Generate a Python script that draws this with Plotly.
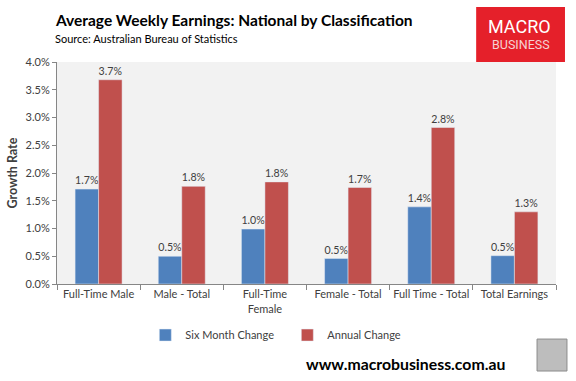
import plotly.graph_objects as go

categories = ["Full-Time Male", "Male - Total", "Full-Time<br>Female", "Female - Total", "Full Time - Total", "Total Earnings"]
six_month = [1.71, 0.50, 0.99, 0.46, 1.39, 0.51]
annual = [3.68, 1.76, 1.84, 1.74, 2.82, 1.30]
y_ticks = [0.0, 0.5, 1.0, 1.5, 2.0, 2.5, 3.0, 3.5, 4.0]
y_tick_labels = [f"{v:.1f}%" for v in y_ticks]

FONT = "Lato"
TXT = "#404040"

fig = go.Figure()
fig.add_trace(go.Bar(name="Six Month Change", x=categories, y=six_month,
                     marker_color="#4F81BD", texttemplate="%{y:.1f}%", textposition="outside",
                     textfont=dict(size=11, color=TXT, family=FONT), cliponaxis=False))
fig.add_trace(go.Bar(name="Annual Change", x=categories, y=annual,
                     marker_color="#C0504D", texttemplate="%{y:.1f}%", textposition="outside",
                     textfont=dict(size=11, color=TXT, family=FONT), cliponaxis=False))

fig.update_layout(
    width=576, height=381,
    margin=dict(l=57, r=20, t=62, b=97, autoexpand=False),
    paper_bgcolor="white", plot_bgcolor="#F2F2F2",
    barmode="group", bargap=0.435, bargroupgap=0,
    font=dict(family=FONT, size=11, color=TXT),
    showlegend=True,
    legend=dict(orientation="h", x=0.177, xanchor="left", y=-0.23, yanchor="middle",
                font=dict(size=11, color=TXT, family=FONT), itemwidth=30, traceorder="normal",
                entrywidth=97, entrywidthmode="pixels"),
    xaxis=dict(showline=True, linecolor="#868686", linewidth=1, ticks="outside",
               tickson="boundaries", ticklen=5, tickcolor="#868686", tickangle=0, automargin=False,
               tickfont=dict(size=11, color=TXT, family=FONT), showgrid=False),
    yaxis=dict(range=[0, 4], tickvals=y_ticks, ticktext=y_tick_labels, automargin=False,
               showline=True, linecolor="#868686", linewidth=1, ticks="outside", ticklen=4,
               tickcolor="#868686", showgrid=False, zeroline=False,
               tickfont=dict(size=11, color=TXT, family=FONT),
               title=dict(text="<b>Growth Rate</b>", font=dict(size=12.5, color=TXT, family=FONT), standoff=5)),
)

fig.add_annotation(text="<b>Average Weekly Earnings: National by Classification</b>",
                   xref="paper", yref="paper", x=-0.009, y=1.19, xanchor="left", yanchor="middle",
                   showarrow=False, font=dict(size=15.5, color="#000000", family=FONT))
fig.add_annotation(text="Source: Australian Bureau of Statistics",
                   xref="paper", yref="paper", x=-0.009, y=1.104, xanchor="left", yanchor="middle",
                   showarrow=False, font=dict(size=11, color="#000000", family=FONT))

# logo box
fig.add_shape(type="rect", xref="paper", yref="paper", x0=0.840, x1=1.018, y0=1.0, y1=1.248,
              fillcolor="#E5202A", line=dict(width=0))
fig.add_annotation(text="MACRO", xref="paper", yref="paper", x=0.927, y=1.160, showarrow=False,
                   font=dict(size=18, color="white", family="Roboto"), xanchor="center", yanchor="middle")
fig.add_annotation(text="BUSINESS", xref="paper", yref="paper", x=0.929, y=1.081, showarrow=False,
                   font=dict(size=12.5, color="#F5D2D2", family="Roboto"), xanchor="center", yanchor="middle")

fig.add_annotation(text="<b>www.macrobusiness.com.au</b>", xref="paper", yref="paper",
                   x=0.902, y=-0.356, xanchor="right", yanchor="middle", showarrow=False,
                   font=dict(size=15.8, color="#000000", family=FONT))
# fox image placeholder
fig.add_shape(type="rect", xref="paper", yref="paper", x0=0.962, x1=1.022, y0=-0.392, y1=-0.248,
              fillcolor="#BDBDBD", line=dict(color="#8C8C8C", width=1))

fig.write_html("out.html", config={"displayModeBar": False},
               post_script="document.body.style.margin='0';")
